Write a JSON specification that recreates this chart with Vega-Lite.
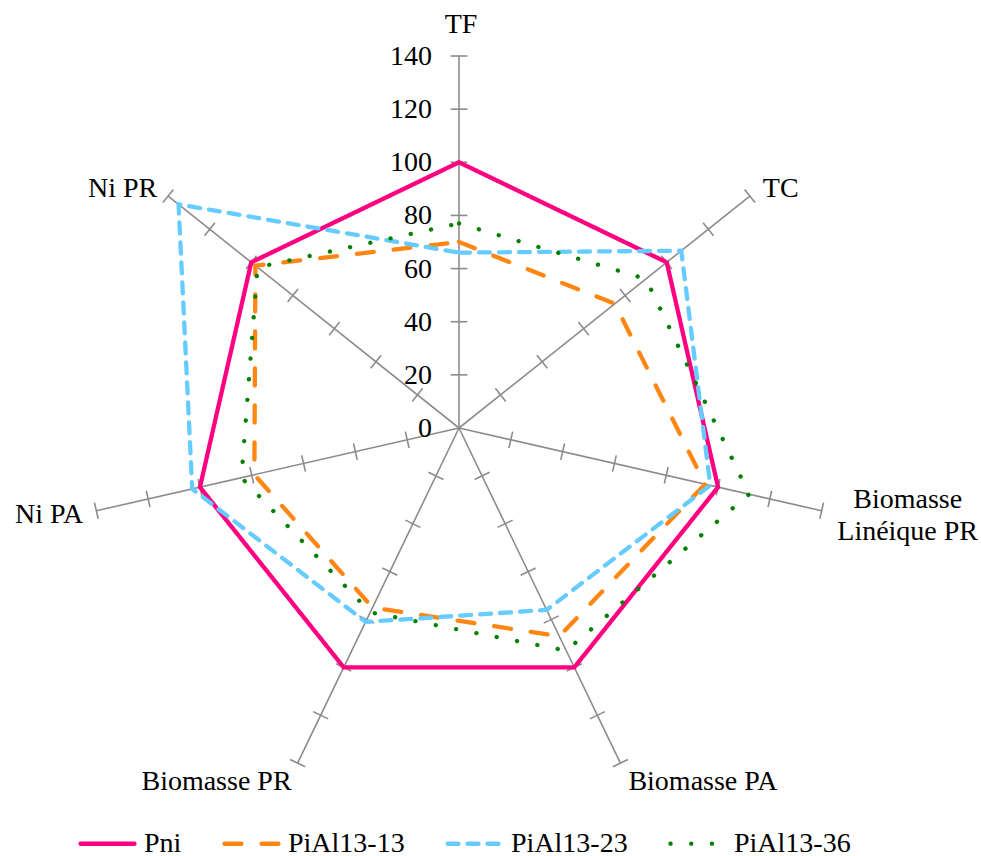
{
  "$schema": "https://vega.github.io/schema/vega-lite/v6.json",
  "width": 981,
  "height": 856,
  "padding": 0,
  "autosize": {"type": "none"},
  "background": "white",
  "config": {"view": {"stroke": null}, "font": "Liberation Serif", "legend": {"labelFont": "Times New Roman", "labelFontSize": 28, "labelColor": "black"}},
  "datasets": {
    "scores": [
      {"k": 0, "axe": "TF", "serie": "Pni", "valeur": 100},
      {"k": 1, "axe": "TC", "serie": "Pni", "valeur": 100},
      {"k": 2, "axe": "Biomasse Linéique PR", "serie": "Pni", "valeur": 100},
      {"k": 3, "axe": "Biomasse PA", "serie": "Pni", "valeur": 100},
      {"k": 4, "axe": "Biomasse PR", "serie": "Pni", "valeur": 100},
      {"k": 5, "axe": "Ni PA", "serie": "Pni", "valeur": 100},
      {"k": 6, "axe": "Ni PR", "serie": "Pni", "valeur": 100},
      {"k": 7, "axe": "TF", "serie": "Pni", "valeur": 100},
      {"k": 0, "axe": "TF", "serie": "PiAl13-13", "valeur": 70},
      {"k": 1, "axe": "TC", "serie": "PiAl13-13", "valeur": 75},
      {"k": 2, "axe": "Biomasse Linéique PR", "serie": "PiAl13-13", "valeur": 95},
      {"k": 3, "axe": "Biomasse PA", "serie": "PiAl13-13", "valeur": 87},
      {"k": 4, "axe": "Biomasse PR", "serie": "PiAl13-13", "valeur": 75},
      {"k": 5, "axe": "Ni PA", "serie": "PiAl13-13", "valeur": 79},
      {"k": 6, "axe": "Ni PR", "serie": "PiAl13-13", "valeur": 98},
      {"k": 7, "axe": "TF", "serie": "PiAl13-13", "valeur": 70},
      {"k": 0, "axe": "TF", "serie": "PiAl13-23", "valeur": 66},
      {"k": 1, "axe": "TC", "serie": "PiAl13-23", "valeur": 107},
      {"k": 2, "axe": "Biomasse Linéique PR", "serie": "PiAl13-23", "valeur": 97},
      {"k": 3, "axe": "Biomasse PA", "serie": "PiAl13-23", "valeur": 76},
      {"k": 4, "axe": "Biomasse PR", "serie": "PiAl13-23", "valeur": 81},
      {"k": 5, "axe": "Ni PA", "serie": "PiAl13-23", "valeur": 103},
      {"k": 6, "axe": "Ni PR", "serie": "PiAl13-23", "valeur": 135},
      {"k": 7, "axe": "TF", "serie": "PiAl13-23", "valeur": 66},
      {"k": 0, "axe": "TF", "serie": "PiAl13-36", "valeur": 77},
      {"k": 1, "axe": "TC", "serie": "PiAl13-36", "valeur": 90},
      {"k": 2, "axe": "Biomasse Linéique PR", "serie": "PiAl13-36", "valeur": 112},
      {"k": 3, "axe": "Biomasse PA", "serie": "PiAl13-36", "valeur": 93},
      {"k": 4, "axe": "Biomasse PR", "serie": "PiAl13-36", "valeur": 77},
      {"k": 5, "axe": "Ni PA", "serie": "PiAl13-36", "valeur": 84},
      {"k": 6, "axe": "Ni PR", "serie": "PiAl13-36", "valeur": 97},
      {"k": 7, "axe": "TF", "serie": "PiAl13-36", "valeur": 77}
    ],
    "axes": [
      {"k": 0, "axe": "TF", "grad": [0, 20, 40, 60, 80, 100, 120, 140]},
      {"k": 1, "axe": "TC", "grad": [0, 20, 40, 60, 80, 100, 120, 140]},
      {"k": 2, "axe": "Biomasse\nLinéique PR", "grad": [0, 20, 40, 60, 80, 100, 120, 140]},
      {"k": 3, "axe": "Biomasse PA", "grad": [0, 20, 40, 60, 80, 100, 120, 140]},
      {"k": 4, "axe": "Biomasse PR", "grad": [0, 20, 40, 60, 80, 100, 120, 140]},
      {"k": 5, "axe": "Ni PA", "grad": [0, 20, 40, 60, 80, 100, 120, 140]},
      {"k": 6, "axe": "Ni PR", "grad": [0, 20, 40, 60, 80, 100, 120, 140]}
    ]
  },
  "layer": [
    {
      "data": {"name": "axes"},
      "transform": [
        {"calculate": "datum.k*2*PI/7", "as": "a"},
        {"calculate": "140*sin(datum.a)", "as": "ex"},
        {"calculate": "140*cos(datum.a)", "as": "ey"}
      ],
      "mark": {"type": "rule", "color": "#8C8C8C", "strokeWidth": 1.6},
      "encoding": {
        "x": {"field": "ex", "type": "quantitative", "scale": {"domain": [-172.75, 196.46], "nice": false, "zero": false}, "axis": null},
        "y": {"field": "ey", "type": "quantitative", "scale": {"domain": [-161.08, 161.08], "nice": false, "zero": false}, "axis": null},
        "x2": {"datum": 0},
        "y2": {"datum": 0}
      }
    },
    {
      "data": {"name": "axes"},
      "transform": [
        {"flatten": ["grad"], "as": ["t"]},
        {"filter": "datum.t > 0"},
        {"calculate": "datum.k*2*PI/7", "as": "a"},
        {"calculate": "datum.t*sin(datum.a) - 3.15*cos(datum.a)", "as": "px"},
        {"calculate": "datum.t*cos(datum.a) + 3.15*sin(datum.a)", "as": "py"},
        {"calculate": "datum.t*sin(datum.a) + 3.15*cos(datum.a)", "as": "qx"},
        {"calculate": "datum.t*cos(datum.a) - 3.15*sin(datum.a)", "as": "qy"}
      ],
      "mark": {"type": "rule", "color": "#8C8C8C", "strokeWidth": 1.6},
      "encoding": {
        "x": {"field": "px", "type": "quantitative", "scale": {"domain": [-172.75, 196.46], "nice": false, "zero": false}, "axis": null},
        "y": {"field": "py", "type": "quantitative", "scale": {"domain": [-161.08, 161.08], "nice": false, "zero": false}, "axis": null},
        "x2": {"field": "qx"},
        "y2": {"field": "qy"}
      }
    },
    {
      "data": {"name": "axes"},
      "transform": [
        {"filter": "datum.k == 0"},
        {"flatten": ["grad"], "as": ["t"]},
        {"calculate": "datum.t*sin(datum.k)", "as": "tx"}
      ],
      "mark": {"type": "text", "align": "right", "baseline": "middle", "dx": -27, "dy": 1, "fontSize": 28, "font": "Liberation Serif", "color": "black"},
      "encoding": {
        "x": {"field": "tx", "type": "quantitative", "scale": {"domain": [-172.75, 196.46], "nice": false, "zero": false}, "axis": null},
        "y": {"field": "t", "type": "quantitative", "scale": {"domain": [-161.08, 161.08], "nice": false, "zero": false}, "axis": null},
        "text": {"field": "t", "type": "quantitative"}
      }
    },
    {
      "data": {"name": "scores"},
      "transform": [
        {"calculate": "datum.k*2*PI/7", "as": "a"},
        {"calculate": "datum.valeur*sin(datum.a)", "as": "x"},
        {"calculate": "datum.valeur*cos(datum.a)", "as": "y"}
      ],
      "mark": {"type": "line", "strokeWidth": 4.3, "strokeCap": "round", "strokeJoin": "miter"},
      "encoding": {
        "x": {"field": "x", "type": "quantitative", "scale": {"domain": [-172.75, 196.46], "nice": false, "zero": false}, "axis": null},
        "y": {"field": "y", "type": "quantitative", "scale": {"domain": [-161.08, 161.08], "nice": false, "zero": false}, "axis": null},
        "order": {"field": "k", "type": "quantitative"},
        "color": {
          "field": "serie", "type": "nominal",
          "scale": {"domain": ["Pni", "PiAl13-13", "PiAl13-23", "PiAl13-36"], "range": ["#FF0080", "#FF8612", "#66CCFF", "#007F00"]},
          "legend": {
            "orient": "none", "legendX": 78, "legendY": 814, "direction": "horizontal", "title": null,
            "symbolType": "stroke", "symbolSize": 2916, "symbolStrokeWidth": 4.3,
            "labelFont": "Times New Roman", "labelFontSize": 28, "labelColor": "black", "labelOffset": 7,
            "columnPadding": 33, "padding": 0,
            "encode": {
              "symbols": {"update": {"strokeCap": {"value": "round"}}},
              "labels": {"update": {"font": {"value": "Times New Roman"}, "fontSize": {"value": 28}, "fill": {"value": "black"}}}
            }
          }
        },
        "strokeDash": {
          "field": "serie", "type": "nominal",
          "scale": {"domain": ["Pni", "PiAl13-13", "PiAl13-23", "PiAl13-36"], "range": [[1, 0], [17, 20], [11, 9], [0.1, 20.6]]}
        }
      }
    },
    {
      "data": {"name": "axes"},
      "transform": [{"filter": "datum.k == 0"}, {"calculate": "datum.k*2*PI/7", "as": "a"}, {"calculate": "140*sin(datum.a)", "as": "ex"}, {"calculate": "140*cos(datum.a)", "as": "ey"}],
      "mark": {"type": "text", "align": "center", "baseline": "alphabetic", "dx": 2, "dy": -23, "fontSize": 28, "font": "Liberation Serif", "color": "black"},
      "encoding": {
        "x": {"field": "ex", "type": "quantitative", "scale": {"domain": [-172.75, 196.46], "nice": false, "zero": false}, "axis": null},
        "y": {"field": "ey", "type": "quantitative", "scale": {"domain": [-161.08, 161.08], "nice": false, "zero": false}, "axis": null},
        "text": {"field": "axe", "type": "nominal"}
      }
    },
    {
      "data": {"name": "axes"},
      "transform": [{"filter": "datum.k == 1"}, {"calculate": "datum.k*2*PI/7", "as": "a"}, {"calculate": "140*sin(datum.a)", "as": "ex"}, {"calculate": "140*cos(datum.a)", "as": "ey"}],
      "mark": {"type": "text", "align": "left", "baseline": "alphabetic", "dx": 13, "dy": 1, "fontSize": 28, "font": "Liberation Serif", "color": "black"},
      "encoding": {
        "x": {"field": "ex", "type": "quantitative", "scale": {"domain": [-172.75, 196.46], "nice": false, "zero": false}, "axis": null},
        "y": {"field": "ey", "type": "quantitative", "scale": {"domain": [-161.08, 161.08], "nice": false, "zero": false}, "axis": null},
        "text": {"field": "axe", "type": "nominal"}
      }
    },
    {
      "data": {"name": "axes"},
      "transform": [{"filter": "datum.k == 2"}, {"calculate": "datum.k*2*PI/7", "as": "a"}, {"calculate": "140*sin(datum.a)", "as": "ex"}, {"calculate": "140*cos(datum.a)", "as": "ey"}],
      "mark": {"type": "text", "align": "center", "baseline": "alphabetic", "dx": 86, "dy": -3, "lineBreak": "\n", "lineHeight": 32, "fontSize": 28, "font": "Liberation Serif", "color": "black"},
      "encoding": {
        "x": {"field": "ex", "type": "quantitative", "scale": {"domain": [-172.75, 196.46], "nice": false, "zero": false}, "axis": null},
        "y": {"field": "ey", "type": "quantitative", "scale": {"domain": [-161.08, 161.08], "nice": false, "zero": false}, "axis": null},
        "text": {"field": "axe", "type": "nominal"}
      }
    },
    {
      "data": {"name": "axes"},
      "transform": [{"filter": "datum.k == 3"}, {"calculate": "datum.k*2*PI/7", "as": "a"}, {"calculate": "140*sin(datum.a)", "as": "ex"}, {"calculate": "140*cos(datum.a)", "as": "ey"}],
      "mark": {"type": "text", "align": "left", "baseline": "alphabetic", "dx": 8, "dy": 27, "fontSize": 28, "font": "Liberation Serif", "color": "black"},
      "encoding": {
        "x": {"field": "ex", "type": "quantitative", "scale": {"domain": [-172.75, 196.46], "nice": false, "zero": false}, "axis": null},
        "y": {"field": "ey", "type": "quantitative", "scale": {"domain": [-161.08, 161.08], "nice": false, "zero": false}, "axis": null},
        "text": {"field": "axe", "type": "nominal"}
      }
    },
    {
      "data": {"name": "axes"},
      "transform": [{"filter": "datum.k == 4"}, {"calculate": "datum.k*2*PI/7", "as": "a"}, {"calculate": "140*sin(datum.a)", "as": "ex"}, {"calculate": "140*cos(datum.a)", "as": "ey"}],
      "mark": {"type": "text", "align": "right", "baseline": "alphabetic", "dx": -6, "dy": 27, "fontSize": 28, "font": "Liberation Serif", "color": "black"},
      "encoding": {
        "x": {"field": "ex", "type": "quantitative", "scale": {"domain": [-172.75, 196.46], "nice": false, "zero": false}, "axis": null},
        "y": {"field": "ey", "type": "quantitative", "scale": {"domain": [-161.08, 161.08], "nice": false, "zero": false}, "axis": null},
        "text": {"field": "axe", "type": "nominal"}
      }
    },
    {
      "data": {"name": "axes"},
      "transform": [{"filter": "datum.k == 5"}, {"calculate": "datum.k*2*PI/7", "as": "a"}, {"calculate": "140*sin(datum.a)", "as": "ex"}, {"calculate": "140*cos(datum.a)", "as": "ey"}],
      "mark": {"type": "text", "align": "right", "baseline": "alphabetic", "dx": -13, "dy": 12, "fontSize": 28, "font": "Liberation Serif", "color": "black"},
      "encoding": {
        "x": {"field": "ex", "type": "quantitative", "scale": {"domain": [-172.75, 196.46], "nice": false, "zero": false}, "axis": null},
        "y": {"field": "ey", "type": "quantitative", "scale": {"domain": [-161.08, 161.08], "nice": false, "zero": false}, "axis": null},
        "text": {"field": "axe", "type": "nominal"}
      }
    },
    {
      "data": {"name": "axes"},
      "transform": [{"filter": "datum.k == 6"}, {"calculate": "datum.k*2*PI/7", "as": "a"}, {"calculate": "140*sin(datum.a)", "as": "ex"}, {"calculate": "140*cos(datum.a)", "as": "ey"}],
      "mark": {"type": "text", "align": "right", "baseline": "alphabetic", "dx": -11, "dy": 1, "fontSize": 28, "font": "Liberation Serif", "color": "black"},
      "encoding": {
        "x": {"field": "ex", "type": "quantitative", "scale": {"domain": [-172.75, 196.46], "nice": false, "zero": false}, "axis": null},
        "y": {"field": "ey", "type": "quantitative", "scale": {"domain": [-161.08, 161.08], "nice": false, "zero": false}, "axis": null},
        "text": {"field": "axe", "type": "nominal"}
      }
    }
  ]
}
